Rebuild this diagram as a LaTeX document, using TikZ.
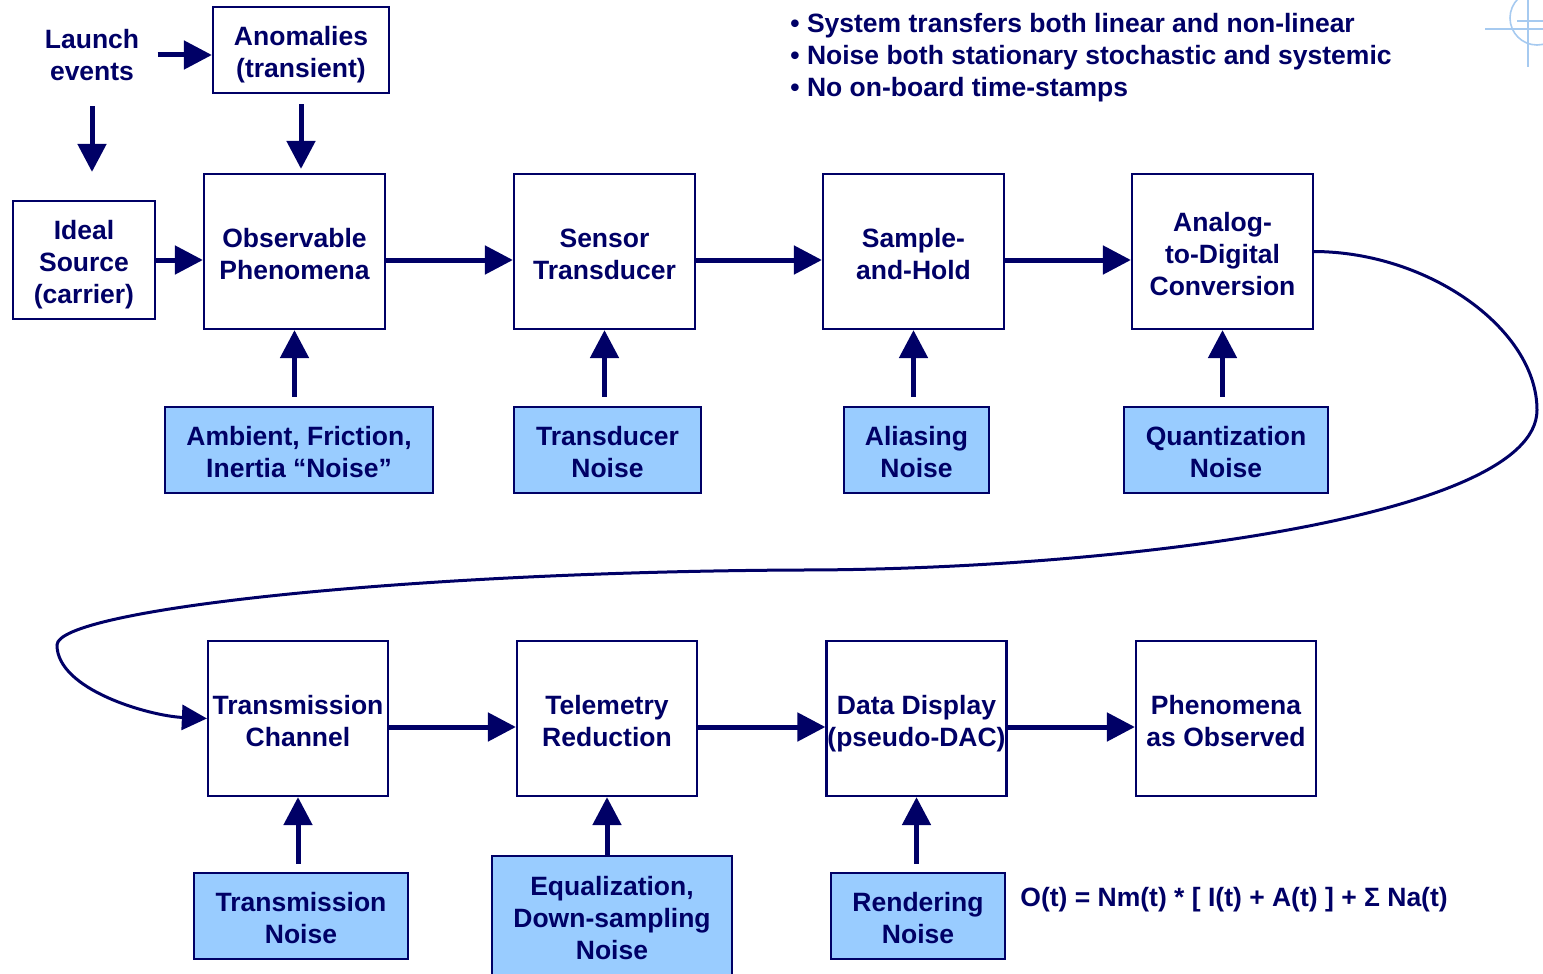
\documentclass[tikz,border=0pt]{standalone}
\usepackage{fontspec}
\setmainfont{Liberation Sans}
\usetikzlibrary{arrows.meta}
\definecolor{navy}{HTML}{000066}
\definecolor{noisefill}{HTML}{99CCFF}
\definecolor{crossblue}{HTML}{A6CAF0}
\newcommand{\topst}{\rule{0pt}{14.4pt}}
\newcommand{\botst}{\rule[-2.8pt]{0pt}{2.8pt}}
\begin{document}
\begin{tikzpicture}[x=0.5pt,y=-0.5pt,
  font=\fontsize{13.25}{16}\selectfont\bfseries, text=navy,
  box/.style={draw=navy, line width=1.1pt, align=center, inner sep=0pt},
  bigbox/.style={box, minimum width=90.5pt, minimum height=77.5pt},
  noisebox/.style={box, fill=noisefill},
  txt/.style={align=center, inner sep=0pt},
  arr/.style={draw=navy, line width=2.5pt, -{Triangle[length=14pt,width=14pt]}},
  curvearr/.style={draw=navy, line width=1.5pt, -{Triangle[length=12.5pt,width=12.5pt]}}]
\useasboundingbox (0,0) rectangle (1543,974);
\clip (0,0) rectangle (1543,974);

% corner mark
\draw[crossblue, line width=0.8pt] (1537,18) circle[radius=27];
\draw[crossblue, line width=0.8pt] (1528,0) -- (1528,67);
\draw[crossblue, line width=0.8pt] (1485,29) -- (1543,29);
\draw[crossblue, line width=0.8pt] (1517,21) -- (1543,21);

% top area
\node[txt] (launch) at (92,55) {Launch\\events};
\node[box, minimum width=88pt, minimum height=43pt] (anom) at (301,50) {\topst Anomalies\\(transient)\botst};
\node[box, minimum width=71pt, minimum height=59pt] (ideal) at (84,260) {\topst Ideal\\Source\\(carrier)\botst};

% top row
\node[bigbox] (obs)  at (294.5,251.5) {\topst Observable\\Phenomena\botst};
\node[bigbox] (sens) at (604.5,251.5) {\topst Sensor\\Transducer\botst};
\node[bigbox] (samp) at (913.5,251.5) {\topst Sample-\\and-Hold\botst};
\node[bigbox] (adc)  at (1222.5,251.5) {\topst Analog-\\to-Digital\\Conversion\botst};

\node[noisebox, minimum width=134pt, minimum height=43pt] (amb) at (299,450) {\topst Ambient, Friction,\\Inertia “Noise”\botst};
\node[noisebox, minimum width=93.5pt, minimum height=43pt] (trd) at (607.5,450) {\topst Transducer\\Noise\botst};
\node[noisebox, minimum width=72.5pt, minimum height=43pt] (ali) at (916.5,450) {\topst Aliasing\\Noise\botst};
\node[noisebox, minimum width=102pt, minimum height=43pt] (qua) at (1226,450) {\topst Quantization\\Noise\botst};

% bottom row
\node[bigbox, minimum width=90pt] (trc) at (298,718.5) {\topst Transmission\\Channel\botst};
\node[bigbox, minimum width=90pt] (tel) at (607,718.5) {\topst Telemetry\\Reduction\botst};
\node[bigbox, minimum width=90pt] (dat) at (916.5,718.5) {\topst Data Display\\(pseudo-DAC)\botst};
\node[bigbox, minimum width=90pt] (pho) at (1226,718.5) {\topst Phenomena\\as Observed\botst};

\node[noisebox, minimum width=107pt, minimum height=43pt] (trn) at (301,916) {\topst Transmission\\Noise\botst};
\node[noisebox, minimum width=120pt, minimum height=60pt] (eqn) at (612,916) {\topst Equalization,\\Down-sampling\\Noise\botst};
\node[noisebox, minimum width=87pt, minimum height=43pt] (ren) at (918,916) {\topst Rendering\\Noise\botst};

% texts
\node[anchor=west, inner sep=0pt] (b1) at (790,26) {• System transfers both linear and non-linear};
\node[anchor=west, inner sep=0pt] (b2) at (790,58) {• Noise both stationary stochastic and systemic};
\node[anchor=west, inner sep=0pt] (b3) at (790,90) {• No on-board time-stamps};
\node[anchor=west, inner sep=0pt] (eq) at (1020,900) {O(t) = Nm(t) * [ I(t) + A(t) ] + Σ Na(t)};

% arrows top
\draw[arr, shorten <=9pt] (launch.east) -- (launch.east -| anom.west);
\draw[arr, shorten <=12.5pt, shorten >=14pt] (launch.south) -- (launch.south |- ideal.north);
\draw[arr, shorten <=5pt, shorten >=2pt] (anom.south) -- (anom.south |- obs.north);
\draw[arr] (ideal.east) -- (ideal.east -| obs.west);
\draw[arr] ([yshift=-4.25pt]obs.east) -- ([yshift=-4.25pt]sens.west);
\draw[arr] ([yshift=-4.25pt]sens.east) -- ([yshift=-4.25pt]samp.west);
\draw[arr] ([yshift=-4.25pt]samp.east) -- ([yshift=-4.25pt]adc.west);

\draw[arr, shorten <=4.5pt] (amb.north -| obs.south) -- (obs.south);
\draw[arr, shorten <=4.5pt] (trd.north -| sens.south) -- (sens.south);
\draw[arr, shorten <=4.5pt] (ali.north -| samp.south) -- (samp.south);
\draw[arr, shorten <=4.5pt] (qua.north -| adc.south) -- (adc.south);

% long curve
\draw[curvearr] (adc.east) .. controls (1430,252) and (1537,330) .. (1537,410)
  .. controls (1537,520) and (1100,570) .. (800,570)
  .. controls (400,572) and (57,610) .. (57,645)
  .. controls (57,690) and (150,716) .. (trc.west);

% arrows bottom
\draw[arr] ([yshift=-4.25pt]trc.east) -- ([yshift=-4.25pt]tel.west);
\draw[arr] ([yshift=-4.25pt]tel.east) -- ([yshift=-4.25pt]dat.west);
\draw[arr] ([yshift=-4.25pt]dat.east) -- ([yshift=-4.25pt]pho.west);

\draw[arr, shorten <=4pt] (trn.north -| trc.south) -- (trc.south);
\draw[arr] (eqn.north -| tel.south) -- (tel.south);
\draw[arr, shorten <=4pt] (ren.north -| dat.south) -- (dat.south);
\end{tikzpicture}
\end{document}
